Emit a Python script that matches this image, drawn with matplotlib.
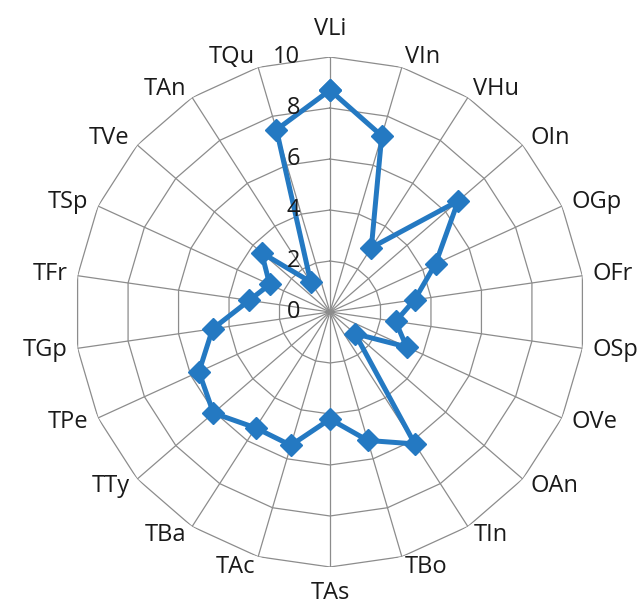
"""
Radar chart of the 22 trait scores (V*, O*, T* groups).

Saves out.png (640x605).
"""
import numpy as np
import matplotlib
matplotlib.use("Agg")
import matplotlib.pyplot as plt

CATEGORIES = ["VLi", "VIn", "VHu", "OIn", "OGp", "OFr", "OSp", "OVe", "OAn",
              "TIn", "TBo", "TAs", "TAc", "TBa", "TTy", "TPe", "TGp", "TFr",
              "TSp", "TVe", "TAn", "TQu"]
SCORES = [8.7, 7.2, 3.0, 6.65, 4.55, 3.35, 2.6, 3.3, 1.3,
          6.15, 5.25, 4.2, 5.45, 5.4, 6.05, 5.65, 4.65, 3.2,
          2.6, 3.55, 1.4, 7.45]
RINGS = [0, 2, 4, 6, 8, 10]

LINE_COLOR = "#2479c2"
GRID_COLOR = "#8c8c8c"
FONT = "Open Sans"
FS = 17

plt.rcParams["font.family"] = [FONT, "DejaVu Sans"]


def plot_radar() -> None:
    dpi = 100
    fig = plt.figure(figsize=(6.40, 6.05), dpi=dpi)
    # centre ~(330, 312) px, outer ring radius ~255 px
    ax = fig.add_axes([75 / 640, 38 / 605, 510 / 640, 510 / 605], projection="polar")
    ax.set_theta_zero_location("N")
    ax.set_theta_direction(-1)
    ax.set_ylim(0, RINGS[-1])
    ax.grid(False)
    ax.spines["polar"].set_visible(False)
    ax.set_xticks([])
    ax.set_yticks([])
    ax.patch.set_alpha(0)

    n = len(CATEGORIES)
    theta = np.arange(n) * 2 * np.pi / n
    theta_closed = np.append(theta, theta[0])

    # polygon rings + spokes
    for r in RINGS[1:]:
        ax.plot(theta_closed, [r] * (n + 1), color=GRID_COLOR, lw=0.9, zorder=1)
    for t in theta:
        ax.plot([t, t], [0, RINGS[-1]], color=GRID_COLOR, lw=0.9, zorder=1)

    # data series
    vals = np.append(SCORES, SCORES[0])
    ax.plot(theta_closed, vals, color=LINE_COLOR, lw=3.6, zorder=3,
            marker="D", markersize=11, markerfacecolor=LINE_COLOR,
            markeredgecolor=LINE_COLOR, markeredgewidth=1)

    # radial tick labels, left of the top spoke
    for r in RINGS:
        ax.annotate(str(r), xy=(0, r), xytext=(-21.5, 0), textcoords="offset points",
                    ha="right", va="center", fontsize=FS, color="#1a1a1a")

    # category labels
    for t, name in zip(theta, CATEGORIES):
        s, c = np.sin(t), np.cos(t)
        if abs(s) < 0.05:
            ha = "center"
            va = "bottom" if c > 0 else "top"
            d = 11.5 if c > 0 else 10.0
        else:
            ha = "left" if s > 0 else "right"
            va = "center"
            d = 7.5
        ax.annotate(name, xy=(t, RINGS[-1]), xytext=(d * s, d * c),
                    textcoords="offset points", ha=ha, va=va,
                    fontsize=FS, color="#1a1a1a")

    fig.savefig("out.png", dpi=dpi)
    plt.close(fig)


def main() -> None:
    plot_radar()


if __name__ == "__main__":
    main()
